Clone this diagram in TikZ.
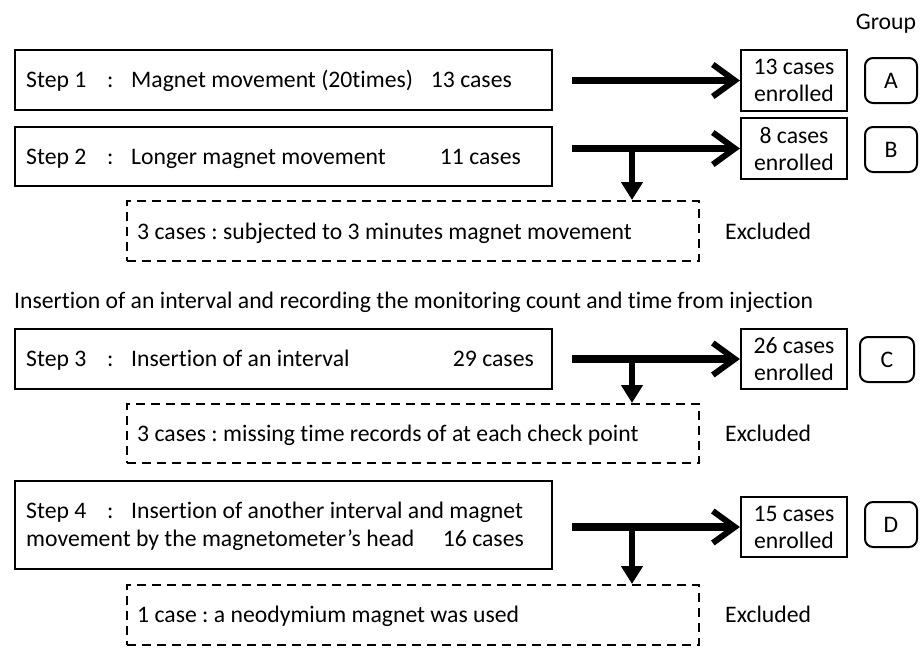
\documentclass[tikz,border=0pt]{standalone}
\usepackage{fontspec}
\setmainfont{Carlito}[Ligatures=NoCommon]
\usetikzlibrary{arrows.meta}
\frenchspacing
\tikzset{
  txt/.style={inner sep=0pt, font=\fontsize{23.7}{28}\selectfont, anchor=base west},
  txtr/.style={txt, anchor=base east},
  stepbox/.style={draw, line width=2.2pt, minimum width=537pt, inner sep=0pt},
  exbox/.style={draw, line width=2pt, dash pattern=on 9pt off 6pt, minimum width=572pt, minimum height=60pt, inner sep=0pt},
  enbox/.style={draw, line width=2.2pt, minimum width=106pt, minimum height=61pt, inner sep=0pt, align=center, font=\fontsize{23.7}{27}\selectfont},
  grpbox/.style={draw, line width=2pt, rounded corners=8pt, minimum width=52pt, minimum height=45pt, inner sep=0pt, font=\fontsize{23.7}{27}\selectfont},
  harr/.style={line width=7.5pt, -{Straight Barb[length=22pt,width=32pt,line width=6pt]}},
  varr/.style={line width=6.5pt, -{Triangle[length=18pt,width=21pt]}}
}
\begin{document}
\begin{tikzpicture}[x=1pt,y=-1pt]
\useasboundingbox (0,0) rectangle (921,648);
% step boxes
\node[stepbox, minimum height=60pt] (s1) at (283.5,80) {};
\node[stepbox, minimum height=59pt] (s2) at (283.5,156.5) {};
\node[stepbox, minimum height=60pt] (s3) at (283.5,359) {};
\node[stepbox, minimum height=88pt] (s4) at (283.5,525) {};
% excluded boxes
\node[exbox] (d1) at (413,231) {};
\node[exbox, minimum height=59pt] (d2) at (413,433.5) {};
\node[exbox] (d3) at (413,615) {};
% enrolled boxes
\node[enbox] (e1) at (794,80.5) {13 cases\\enrolled};
\node[enbox] (e2) at (794,148.5) {8 cases\\enrolled};
\node[enbox, minimum height=60pt] (e3) at (794,359) {26 cases\\enrolled};
\node[enbox, minimum height=60pt] (e4) at (794,527) {15 cases\\enrolled};
% group boxes
\node[txt, anchor=base] (grp) at (886,29) {Group};
\node[grpbox] (gA) at (891,80.5) {A};
\node[grpbox] (gB) at (891,149.5) {B};
\node[grpbox, minimum width=54pt] (gC) at (887,359.5) {C};
\node[grpbox] (gD) at (891,524.5) {D};
% step texts
\node[txt] (t1a) at (26,87.5) {Step 1};
\node[txt] (t1b) at (107,87.5) {:};
\node[txt] (t1c) at (131,87.5) {Magnet movement (20times)};
\node[txtr] (t1d) at (512,87.5) {13 cases};
\node[txt] (t2a) at (26,164) {Step 2};
\node[txt] (t2b) at (107,164) {:};
\node[txt] (t2c) at (131,164) {Longer magnet movement};
\node[txtr] (t2d) at (521,164) {11 cases};
\node[txt] (ins) at (14,308) {Insertion of an interval and recording the monitoring count and time from injection};
\node[txt] (t3a) at (26,366.5) {Step 3};
\node[txt] (t3b) at (107,366.5) {:};
\node[txt] (t3c) at (131,366.5) {Insertion of an interval};
\node[txtr] (t3d) at (534,366.5) {29 cases};
\node[txt] (t4a) at (26,518) {Step 4};
\node[txt] (t4b) at (107,518) {:};
\node[txt] (t4c) at (131,518) {Insertion of another interval and magnet};
\node[txt] (t4d) at (26,546) {movement by the magnetometer’s head};
\node[txtr] (t4e) at (524,546) {16 cases};
% excluded texts
\node[txt] (x1) at (137,239) {3 cases : subjected to 3 minutes magnet movement};
\node[txt] (x2) at (137,441) {3 cases : missing time records of at each check point};
\node[txt] (x3) at (137,622) {1 case : a neodymium magnet was used};
\node[txt] (y1) at (725,239) {Excluded};
\node[txt] (y2) at (725,441) {Excluded};
\node[txt] (y3) at (725,622) {Excluded};
% arrows
\coordinate (a1) at (572,80.5);
\coordinate (a2) at (572,148.5);
\coordinate (a3) at (572,359);
\coordinate (a4) at (572,527);
\coordinate (b2) at (632,148.5);
\coordinate (b3) at (632,359);
\coordinate (b4) at (632,527);
\draw[harr] (a1) -- (e1.west);
\draw[harr] (a2) -- (e2.west);
\draw[harr] (a3) -- (e3.west);
\draw[harr] (a4) -- (e4.west);
\draw[varr] (b2) -- (b2 |- d1.north);
\draw[varr] (b3) -- (b3 |- d2.north);
\draw[varr] (b4) -- (b4 |- d3.north);
\end{tikzpicture}
\end{document}
